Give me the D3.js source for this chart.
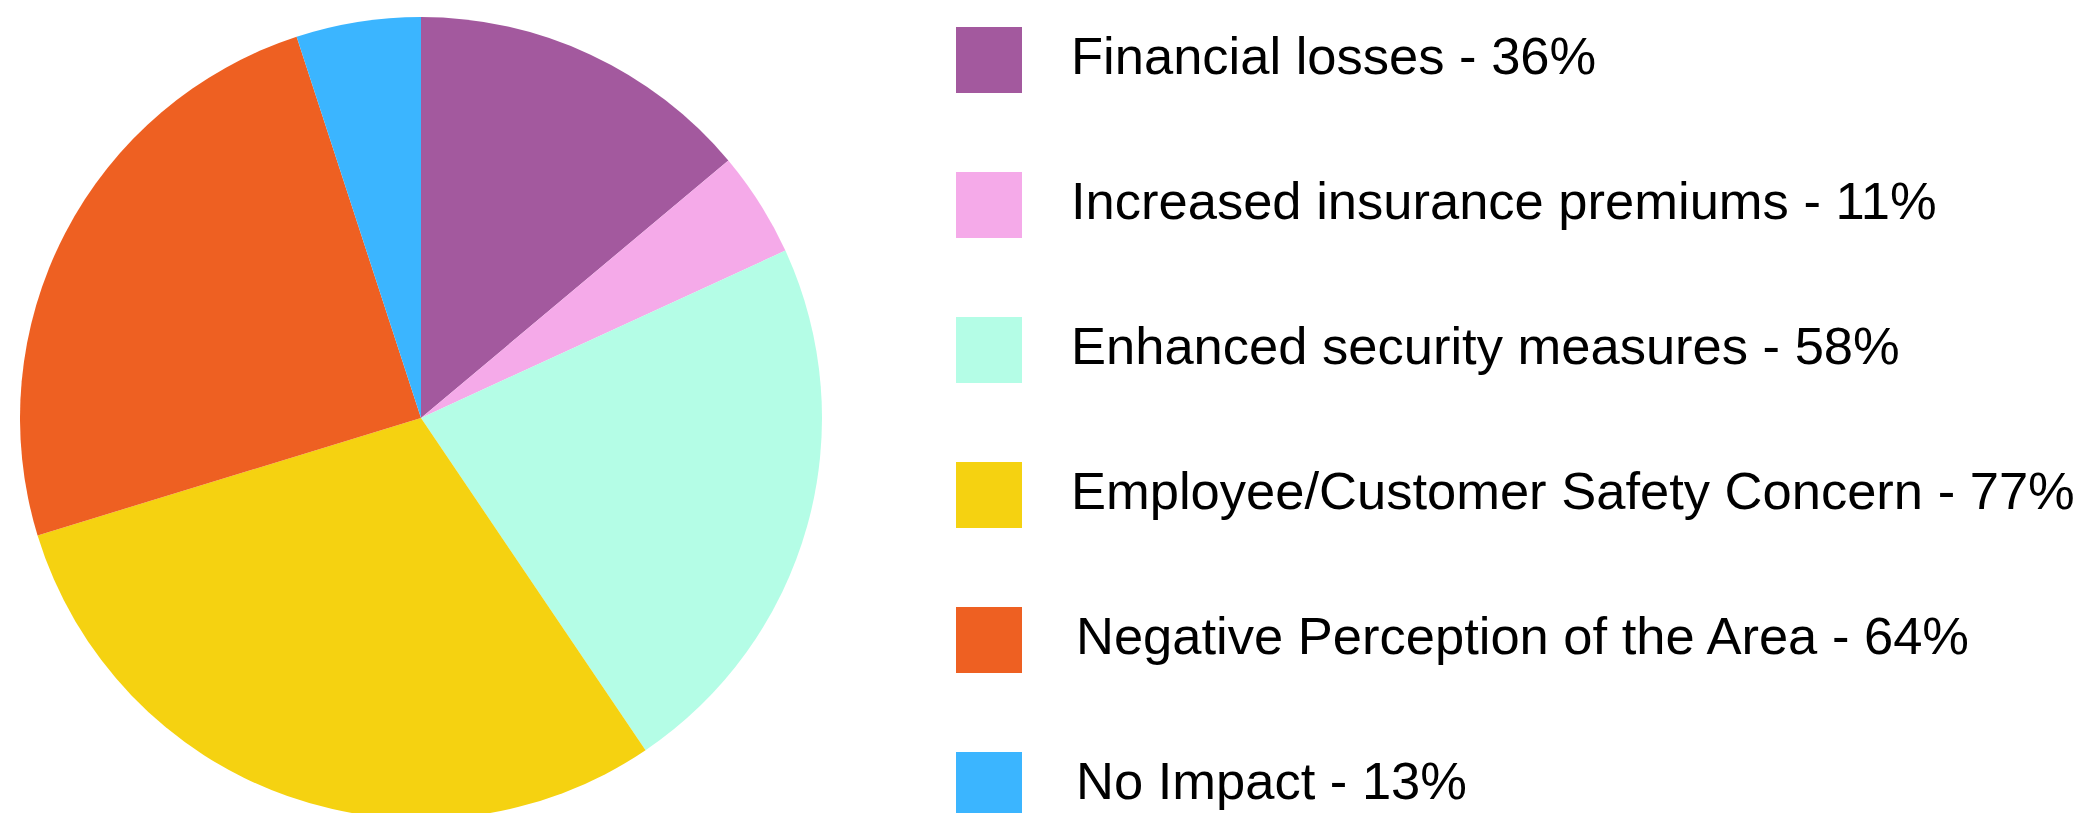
<!DOCTYPE html>
<html>
	<head>
		<title>Impact pie</title>
		<script src="https://d3js.org/d3.v7.min.js"></script>
		<style>
			body { margin: 0; background: #fff; }
			text { font-family: "Liberation Sans", Arial, sans-serif; fill: #000; }
		</style>
	</head>
	<body>
		<svg width="2087" height="813"></svg>

		<script type="text/javascript">
			var categories = ["Financial losses", "Increased insurance premiums", "Enhanced security measures",
			    "Employee/Customer Safety Concern", "Negative Perception of the Area", "No Impact"];
			var values = [36, 11, 58, 77, 64, 13];
			var colors = ["#a3599e", "#f5aae9", "#b4fde6", "#f5d211", "#ee6022", "#3bb5ff"];

			var svg = d3.select("svg"),
			    cx = 421, cy = 418, radius = 401;

			var data = categories.map(function(c, i) { return { name: c, value: values[i] }; });

			var pie = d3.pie().sort(null).value(function(d) { return d.value; });
			var arc = d3.arc().innerRadius(0).outerRadius(radius);
			var color = d3.scaleOrdinal().domain(categories).range(colors);

			svg.append("g")
			    .attr("transform", "translate(" + cx + "," + cy + ")")
			  .selectAll("path")
			  .data(pie(data))
			  .enter().append("path")
			    .attr("d", arc)
			    .style("fill", function(d) { return color(d.data.name); });

			// legend
			var y = d3.scalePoint().domain(categories).range([27, 752]);

			var legend = svg.append("g").selectAll("g")
			  .data(data)
			  .enter().append("g")
			    .attr("transform", function(d) { return "translate(956," + y(d.name) + ")"; });

			legend.append("rect")
			    .attr("width", 66)
			    .attr("height", 66)
			    .style("fill", function(d) { return color(d.name); });

			legend.append("text")
			    .attr("x", function(d, i) { return i >= 4 ? 120 : 115; })
			    .attr("y", 47)
			    .style("font-size", "52.5px")
			    .text(function(d) { return d.name + " - " + d.value + "%"; });
		</script>
	</body>
</html>
